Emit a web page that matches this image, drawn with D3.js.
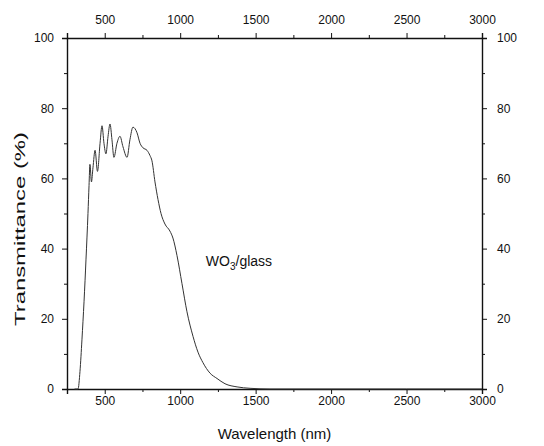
<!DOCTYPE html>
<html>
<head>
<meta charset="utf-8">
<script src="https://cdn.jsdelivr.net/npm/d3@7"></script>
<style>
  body { margin: 0; background: #fff; }
  text { font-family: "Liberation Sans", Arial, sans-serif; fill: #111; }
  .axis path, .axis line { stroke: #111; }
</style>
</head>
<body>
<svg class="spectrum" width="544" height="446"></svg>
<script>
// wavelength (nm) and transmittance (%)
var wavelength = [300, 323, 336, 349, 363, 376, 389, 396, 402, 412, 422, 436, 452, 469, 482, 495, 508, 522, 535, 548, 561, 581, 601, 621, 648, 667, 687, 714, 734, 754, 780, 800, 813, 833, 853, 873, 899, 932, 952, 979, 1012, 1045, 1085, 1118, 1151, 1198, 1244, 1297, 1377, 1463, 1595, 2000, 2500, 3000];
var transmittance = [0, 0, 5, 14, 25, 37, 50, 58, 64, 59, 63, 68, 62, 70, 75, 70, 67, 72, 75.5, 71, 66, 70, 72, 69, 66, 71, 74.6, 73, 70, 68.7, 68, 66.5, 65, 59, 54, 50, 47, 45, 43, 38, 30, 22, 15, 10.5, 7.5, 4.5, 3, 1.5, 0.6, 0.2, 0, 0, 0, 0];

var xTicks = [500, 1000, 1500, 2000, 2500, 3000];
var xMinor = [750, 1250, 1750, 2250, 2750];
var yTicks = [0, 20, 40, 60, 80, 100];
var yMinor = [10, 30, 50, 70, 90];

var margin = {top: 38, bottom: 57, left: 67, right: 62},
    width = 544 - margin.left - margin.right,
    height = 446 - margin.top - margin.bottom;

var data = wavelength.map(function(d, i) { return {wl: d, t: transmittance[i]}; });

var svg = d3.select(".spectrum")
  .append("g")
    .attr("transform", "translate(" + margin.left + "," + margin.top + ")");

var x = d3.scaleLinear().domain([250, 3000]).range([0, width]);
var y = d3.scaleLinear().domain([0, 100]).range([height, 0]);

function fmt(d) { return d; }

// minor ticks first, then major axes on top
svg.append("g").attr("class", "axis")
    .attr("transform", "translate(0," + height + ")")
    .call(d3.axisBottom(x).tickValues(xMinor).tickSize(3).tickFormat(""));
svg.append("g").attr("class", "axis")
    .call(d3.axisTop(x).tickValues(xMinor).tickSize(3).tickFormat(""));
svg.append("g").attr("class", "axis")
    .call(d3.axisLeft(y).tickValues(yMinor).tickSize(3).tickFormat(""));
svg.append("g").attr("class", "axis")
    .attr("transform", "translate(" + width + ",0)")
    .call(d3.axisRight(y).tickValues(yMinor).tickSize(3).tickFormat(""));

var axes = [
  svg.append("g").attr("class", "axis")
      .attr("transform", "translate(0," + height + ")")
      .call(d3.axisBottom(x).tickValues(xTicks).tickSize(5).tickPadding(2).tickFormat(fmt)),
  svg.append("g").attr("class", "axis")
      .call(d3.axisTop(x).tickValues(xTicks).tickSize(5).tickPadding(9).tickFormat(fmt)),
  svg.append("g").attr("class", "axis")
      .call(d3.axisLeft(y).tickValues(yTicks).tickSize(5).tickPadding(8).tickFormat(fmt)),
  svg.append("g").attr("class", "axis")
      .attr("transform", "translate(" + width + ",0)")
      .call(d3.axisRight(y).tickValues(yTicks).tickSize(5).tickPadding(10).tickFormat(fmt))
];
axes.forEach(function(a) {
  a.selectAll("path").attr("stroke-width", 1.4);
  a.selectAll("text").style("font-size", "12px")
      .style("font-family", "'Liberation Sans', Arial, sans-serif").attr("fill", "#111");
});

var line = d3.line()
    .x(function(d) { return x(d.wl); })
    .y(function(d) { return y(d.t); })
    .curve(d3.curveMonotoneX);

svg.append("path")
    .datum(data)
    .attr("fill", "none")
    .attr("stroke", "#333")
    .attr("stroke-width", 1)
    .attr("d", line);

svg.append("text")
    .attr("x", width / 2)
    .attr("y", height + 50)
    .style("text-anchor", "middle")
    .style("font-size", "15px")
    .text("Wavelength (nm)");

// the scanned y title is drawn taller than the x title, so stretch it
svg.append("text")
    .attr("transform", "rotate(-90)")
    .attr("x", -(229 - margin.top) - 97)
    .attr("y", -42)
    .attr("textLength", 194)
    .attr("lengthAdjust", "spacingAndGlyphs")
    .style("font-size", "15px")
    .text("Transmittance (%)");

var lbl = svg.append("text")
    .attr("x", x(1170))
    .attr("y", y(35))
    .style("font-size", "14px");
lbl.append("tspan").text("WO");
lbl.append("tspan").attr("dy", 4).style("font-size", "10px").text("3");
lbl.append("tspan").attr("dy", -4).text("/glass");
</script>
</body>
</html>
